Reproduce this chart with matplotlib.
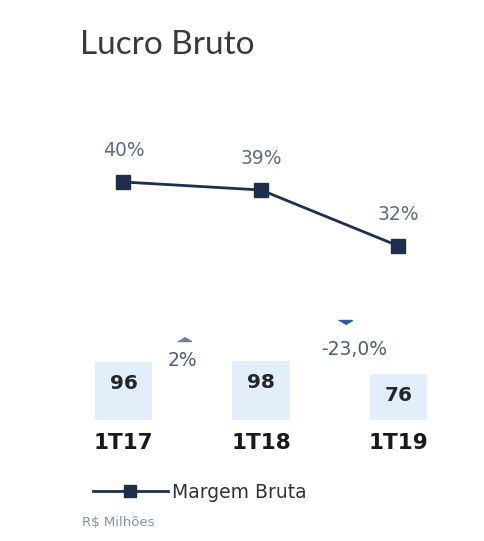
import matplotlib.pyplot as plt

# Dados do gráfico
trimestres = ['1T17', '1T18', '1T19']
lucro_bruto = [96, 98, 76]
margem_bruta = [40, 39, 32]
variacoes = ['2%', '-23,0%']
sentido_variacao = ['up', 'down']

W, H = 485, 541
fig = plt.figure(figsize=(W / 100, H / 100), dpi=100)

# Eixo das barras (valores em R$ milhões)
ax_bar = fig.add_axes([54.75 / W, (H - 420) / H, 412.5 / W, 102 / H])
ax_bar.set_xlim(-0.5, 2.5)
ax_bar.set_ylim(0, 170)
x = range(len(trimestres))
ax_bar.bar(x, lucro_bruto, width=0.415, color='#e3eefb')
for i, v in enumerate(lucro_bruto):
    ax_bar.text(i, v - 35, str(v), ha='center', va='center', fontsize=14.5,
                fontweight='bold', color='#262626')
for i, t in enumerate(trimestres):
    ax_bar.text(i, -38, t, ha='center', va='center', fontsize=15.5,
                fontweight='bold', color='#1a1a1a')

# Variações entre trimestres (triângulos achatados)
seta_cima = [(-1, 0), (1, 0), (0, 0.6)]
seta_baixo = [(-1, 0), (1, 0), (0, -0.6)]
pos_var = [0.43, 1.64]
for p, txt, s in zip(pos_var, variacoes, sentido_variacao):
    if s == 'up':
        ax_bar.plot(p + 0.01, 131, marker=seta_cima, markersize=10, color='#6f819b')
        ax_bar.text(p, 100, txt, ha='center', va='center', fontsize=13.5, color='#4f5f75')
    else:
        ax_bar.plot(p - 0.03, 166, marker=seta_baixo, markersize=10, color='#2f5c9c')
        ax_bar.text(p + 0.04, 117, txt, ha='center', va='center', fontsize=13.5, color='#4f5f75')
ax_bar.axis('off')

# Eixo da margem bruta
ax_line = fig.add_axes([54.75 / W, (H - 270) / H, 412.5 / W, 140 / H])
ax_line.set_xlim(-0.5, 2.5)
ax_line.set_ylim(29, 46.5)
linha, = ax_line.plot(x, margem_bruta, color='#1d2f4b', linewidth=2,
                      marker='s', markersize=10, label='Margem Bruta')
for i, m in enumerate(margem_bruta):
    ax_line.text(i, m + 3.9, f'{m}%', ha='center', va='center', fontsize=13.5,
                 color='#5d6d82')
ax_line.axis('off')

# Título e notas
fig.text(80 / W, 1 - 45 / H, 'Lucro Bruto', ha='left', va='center', fontsize=24,
         family='Lato', fontweight='normal', color='#3a3a3a')
fig.legend(handles=[linha], labels=['Margem Bruta'], loc='center left',
           bbox_to_anchor=(76 / W, 1 - 492 / H), frameon=False, handlelength=4.0,
           handletextpad=0.2, fontsize=13.5, labelcolor='#333333', markerscale=0.8)
fig.text(82 / W, 1 - 522 / H, 'R$ Milhões', ha='left', va='center', fontsize=9.5,
         color='#7f93b0')

fig.savefig('out.png', dpi=100)
